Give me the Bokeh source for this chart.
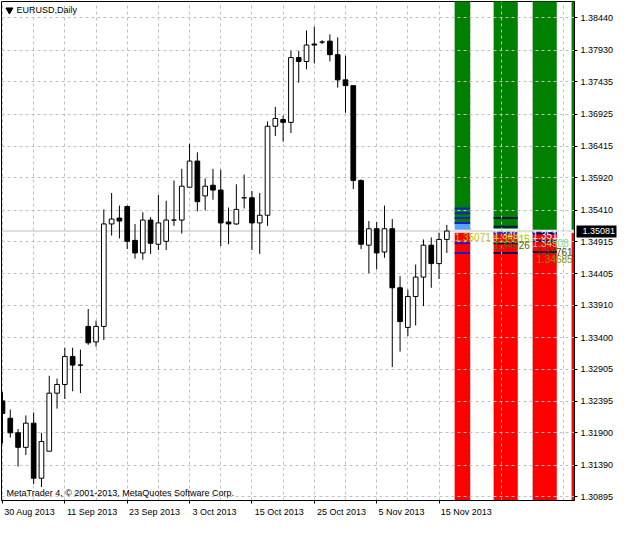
import numpy as np
from bokeh.plotting import figure
from bokeh.models import (ColumnDataSource, Range1d, FixedTicker, PrintfTickFormatter, Label, Span,
                          LinearAxis)
from bokeh.embed import file_html
from bokeh.resources import INLINE
from bokeh.core.properties import value

# ---------------- data (EURUSD daily, 30 Aug 2013 .. 18 Nov 2013) ----------------
opens = [1.32404, 1.32130, 1.31901, 1.31672, 1.32053, 1.31185, 1.31611, 1.32526, 1.32663, 1.33105,
         1.32968, 1.33578, 1.33334, 1.33578, 1.35193, 1.35285, 1.35468, 1.34934, 1.34736, 1.35254,
         1.34873, 1.34919, 1.35254, 1.35254, 1.35772, 1.36184, 1.35635, 1.35803, 1.35727, 1.35224,
         1.35193, 1.35605, 1.35605, 1.35209, 1.35330, 1.36733, 1.36839, 1.36794, 1.37815, 1.37754,
         1.38028, 1.38059, 1.38074, 1.37861, 1.37464, 1.37373, 1.35879, 1.34858, 1.35117, 1.34751,
         1.35117, 1.34187, 1.33562, 1.34050, 1.34355, 1.34858, 1.34568, 1.34949]
highs = [1.32541, 1.32267, 1.31962, 1.32175, 1.32221, 1.31901, 1.32800, 1.32755, 1.33242, 1.33242,
         1.33212, 1.33852, 1.33669, 1.35422, 1.35681, 1.35483, 1.35483, 1.35193, 1.35376, 1.35300,
         1.35651, 1.35559, 1.35879, 1.36062, 1.36458, 1.36321, 1.35910, 1.36062, 1.36047, 1.35452,
         1.35818, 1.35971, 1.35712, 1.35681, 1.36809, 1.37038, 1.36900, 1.37922, 1.37922, 1.38242,
         1.38303, 1.38089, 1.38181, 1.38135, 1.37845, 1.37373, 1.35894, 1.35239, 1.35224, 1.35483,
         1.35270, 1.34370, 1.34157, 1.34553, 1.34949, 1.34980, 1.35056, 1.35178]
lows = [1.31733, 1.31825, 1.31368, 1.31550, 1.31093, 1.31047, 1.31611, 1.32282, 1.32434, 1.32556,
        1.32526, 1.33288, 1.33258, 1.33364, 1.35010, 1.34965, 1.34797, 1.34645, 1.34629, 1.34721,
        1.34782, 1.34782, 1.35163, 1.35041, 1.35772, 1.35391, 1.35407, 1.35574, 1.34843, 1.34873,
        1.35178, 1.35437, 1.34782, 1.34721, 1.35163, 1.36580, 1.36489, 1.36626, 1.37419, 1.37632,
        1.37723, 1.38028, 1.37754, 1.37342, 1.36946, 1.35742, 1.34797, 1.34416, 1.34477, 1.34660,
        1.32937, 1.33181, 1.33425, 1.33593, 1.33898, 1.34187, 1.34325, 1.34736]
closes = [1.32206, 1.31901, 1.31672, 1.32053, 1.31185, 1.31764, 1.32526, 1.32663, 1.33105, 1.32968,
          1.32968, 1.33319, 1.33578, 1.35193, 1.35270, 1.35239, 1.34919, 1.34736, 1.35254, 1.34888,
          1.35209, 1.35254, 1.35254, 1.35788, 1.36184, 1.35544, 1.35788, 1.35727, 1.35209, 1.35193,
          1.35422, 1.35605, 1.35209, 1.35330, 1.36733, 1.36855, 1.36794, 1.37815, 1.37754, 1.38013,
          1.38013, 1.38059, 1.37861, 1.37464, 1.37373, 1.35879, 1.34873, 1.35117, 1.34736, 1.35117,
          1.34187, 1.33654, 1.34050, 1.34355, 1.34858, 1.34568, 1.34949, 1.35081]

date_tick_bars = [0, 8, 16, 24, 32, 40, 48, 56]
date_tick_labels = ["30 Aug 2013", "11 Sep 2013", "23 Sep 2013", "3 Oct 2013",
                    "15 Oct 2013", "25 Oct 2013", "5 Nov 2013", "15 Nov 2013"]
price_ticks = [1.38440, 1.37930, 1.37435, 1.36925, 1.36415, 1.35920, 1.35410, 1.34915,
               1.34405, 1.33910, 1.33400, 1.32905, 1.32395, 1.31900, 1.31390, 1.30895]
last_price = 1.35081

# indicator zones (bar-index spans, green above / red below)
zone_start = [58, 63, 68, 73]
zone_end = [60, 66.1, 71.1, 74]
zone_green_floor = [1.35193, 1.35117, 1.35102, 1.35102]
zone_red_ceiling = [1.35056, 1.35071, 1.35071, 1.35056]

# indicator level lines
lvl_zone = [0, 0, 0, 0, 0, 0, 1, 1, 1, 1, 2, 2, 2]
lvl_price = [1.35437, 1.35361, 1.35285, 1.35209, 1.34888, 1.34736,
             1.35285, 1.35148, 1.34888, 1.34736,
             1.35041, 1.34919, 1.34751]

# indicator price labels
tag_zone = [0, 1, 1, 1, 2, 2, 2, 2]
tag_text = ["1.35071", "1.34966", "1.35015", "1.34926", "1.35108", "1.34908", "1.34761", "1.34685"]
tag_price = [1.34995, 1.35026, 1.34949, 1.34858, 1.35026, 1.34888, 1.34751, 1.34645]

# ---------------- style ----------------
FONT = "Liberation Sans"
X0, X1 = -0.125, 73.375
Y0, Y1 = 1.30834, 1.38699
GREEN, RED = "#008000", "#ff0000"
lvl_colors = ["#1c1ccc"] * 6 + ["#0c0c55"] * 4 + ["#0c0c55"] * 3
tag_colors = ["#b9c600", "#eef0a0", "#a8cc00", "#4f6a10", "#ffffff", "#8fd88f", "#4a4a10", "#7f9000"]
tag_dx = [0.0, 0.0, 0.0, 0.0, 0.0, 0.0, 0.5, 0.5]

idx = np.arange(len(opens))
o, h, l, c = map(np.array, (opens, highs, lows, closes))
up = c >= o
src = ColumnDataSource(dict(x=idx, top=np.maximum(o, c), bottom=np.minimum(o, c), high=h, low=l,
                            fill=np.where(up, "white", "black")))

p = figure(width=618, height=519, output_backend="svg", toolbar_location=None,
           x_range=Range1d(X0, X1), y_range=Range1d(Y0, Y1), y_axis_location="right",
           min_border_left=1, min_border_top=1, min_border_right=0, min_border_bottom=0,
           background_fill_color="white", border_fill_color="white")
p.outline_line_color = "black"
p.outline_line_alpha = 1.0
p.outline_line_width = 1

# zones (drawn first, under the grid)
zsrc = ColumnDataSource(dict(left=zone_start, right=zone_end,
                             gbot=zone_green_floor, gtop=[Y1 + 0.01] * len(zone_start),
                             rtop=zone_red_ceiling, rbot=[Y0 - 0.01] * len(zone_start)))
p.quad(left="left", right="right", top="gtop", bottom="gbot", source=zsrc,
       fill_color=GREEN, line_color=None, level="image")
p.quad(left="left", right="right", top="rtop", bottom="rbot", source=zsrc,
       fill_color=RED, line_color=None, level="image")
p.quad(left=[zone_start[0]], right=[zone_end[0]], top=[zone_green_floor[0]], bottom=[1.35102],
       fill_color="#5aa2ff", line_color=None, level="image")
p.quad(left=zone_start[1:3], right=zone_end[1:3], top=[1.35071, 1.35071], bottom=[1.35030, 1.35030],
       fill_color="#2a2ad0", line_color=None, level="image")
lx0 = [zone_start[z] for z in lvl_zone]
lx1 = [zone_end[z] for z in lvl_zone]
p.segment(x0=lx0, x1=lx1, y0=lvl_price, y1=lvl_price, line_color=lvl_colors, line_width=2,
          level="image")

# grids
p.xgrid.ticker = FixedTicker(ticks=list(range(0, 76, 4)))
p.ygrid.ticker = FixedTicker(ticks=price_ticks)
for g in (p.xgrid, p.ygrid):
    g.grid_line_color = "#c0c0c0"
    g.grid_line_dash = "3 3"
    g.grid_line_width = 1
    g.level = "underlay"

# current price line
p.add_layout(Span(location=last_price, dimension="width", line_color="#c0c0c0", line_width=1,
                  level="underlay"))

# candles
p.segment(x0="x", x1="x", y0="low", y1="high", source=src, line_color="black", line_width=1)
p.vbar(x="x", width=0.6, top="top", bottom="bottom", source=src, fill_color="fill",
       line_color="black", line_width=1)

# indicator labels
tx = [zone_start[z] + d for z, d in zip(tag_zone, tag_dx)]
p.text(x=tx, y=tag_price, text=tag_text, text_color=tag_colors, text_font=value(FONT),
       text_font_size="10px", text_baseline="middle", text_align="left")

# price axis
p.yaxis.ticker = FixedTicker(ticks=price_ticks, minor_ticks=[])
p.yaxis.formatter = PrintfTickFormatter(format="%.5f")
p.yaxis.axis_line_color = "black"
p.yaxis.major_tick_out = 3
p.yaxis.major_tick_in = 0
p.yaxis.minor_tick_out = 0
p.yaxis.minor_tick_in = 0
p.yaxis.major_tick_line_color = "black"
p.yaxis.major_label_standoff = 3
p.yaxis.major_label_text_font = FONT
p.yaxis.major_label_text_font_size = "9px"
p.yaxis.major_label_text_color = "black"

# current-price tag: a second, almost zero-width axis right of the price axis; its long
# thick inward tick is the black box and its (pulled back) label is the white price text
tag_axis = LinearAxis(ticker=FixedTicker(ticks=[last_price], minor_ticks=[]),
                      formatter=PrintfTickFormatter(format="%.5f"),
                      axis_line_color=None, major_tick_out=0, major_tick_in=40,
                      major_tick_line_width=12, major_tick_line_color="black",
                      minor_tick_out=0, minor_tick_in=0,
                      major_label_standoff=-34,
                      major_label_text_font=FONT, major_label_text_font_size="9px",
                      major_label_text_color="white")
p.add_layout(tag_axis, "right")

px_per_bar = 577.0 / (X1 - X0)
shift = [round(((len(s) * 4.65) / 2 + 2) / px_per_bar * 16) / 16 for s in date_tick_labels]
lab_pos = [b + s for b, s in zip(date_tick_bars, shift)]
p.xaxis.ticker = FixedTicker(ticks=lab_pos, minor_ticks=[float(b) for b in date_tick_bars])
p.xaxis.major_label_overrides = {float(pos): s for pos, s in zip(lab_pos, date_tick_labels)}
p.xaxis.axis_line_color = "black"
p.xaxis.major_tick_out = 0
p.xaxis.major_tick_in = 0
p.xaxis.minor_tick_out = 3
p.xaxis.minor_tick_in = 0
p.xaxis.minor_tick_line_color = "black"
p.xaxis.major_label_standoff = 3
p.xaxis.major_label_text_font = FONT
p.xaxis.major_label_text_font_size = "9px"
p.xaxis.major_label_text_color = "black"

# title & copyright
px_per_price = 499.0 / (Y1 - Y0)
p.scatter(x=[X0 + 8 / px_per_bar], y=[Y1 - 8.5 / px_per_price], marker="inverted_triangle",
          size=7, fill_color="black", line_color="black")
p.add_layout(Label(x=X0, y=Y1, x_offset=15, y_offset=-3, text="EURUSD,Daily",
                   text_baseline="top", text_font=FONT, text_font_size="9px", text_color="black"))
p.add_layout(Label(x=X0, y=Y0, x_offset=5, y_offset=3,
                   text="MetaTrader 4, \u00a9 2001-2013, MetaQuotes Software Corp.",
                   text_baseline="bottom", text_font=FONT, text_font_size="9px", text_color="black"))

open("out.html", "w").write(file_html(p, INLINE))
